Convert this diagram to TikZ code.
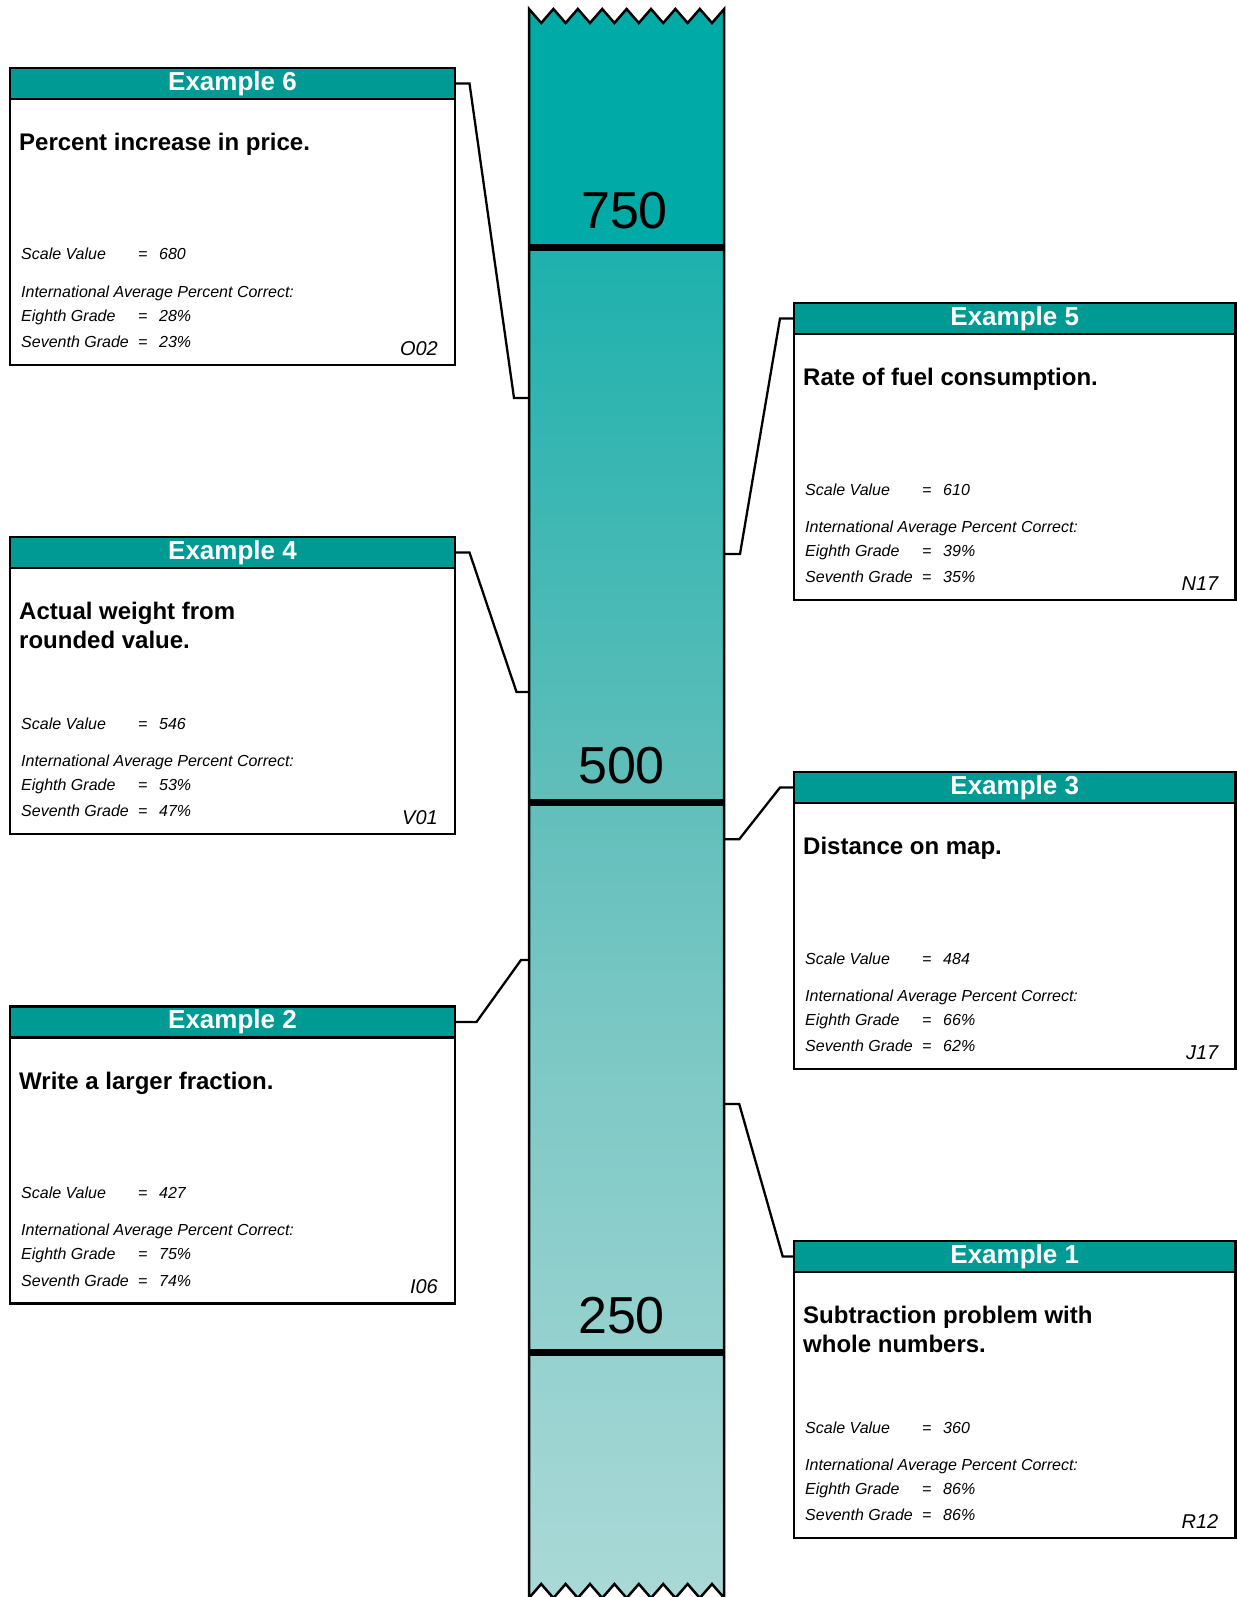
\documentclass[tikz,border=0pt]{standalone}
\usepackage{fontspec}
\setmainfont{Liberation Sans}
\usetikzlibrary{calc}
\definecolor{exteal}{RGB}{0,154,148}
\definecolor{coltop}{RGB}{0,170,166}
\definecolor{colA}{RGB}{30,177,173}
\definecolor{colB}{RGB}{96,190,186}
\definecolor{colC}{RGB}{122,199,196}
\definecolor{colD}{RGB}{170,217,215}
\pgfdeclareverticalshading{colfade}{100bp}{color(0bp)=(colD); color(25bp)=(colD);
  color(46.4bp)=(colC); color(55bp)=(colB); color(75bp)=(colA); color(100bp)=(colA)}
% #1 number, #2 x, #3 y, #4 width, #5 title, #6 scale value, #7 eighth, #8 seventh, #9 item
\newcommand{\exbox}[9]{%
  \node[exframe,minimum width=#4pt,anchor=north west] (ex#1) at (#2,#3) {};
  \node[exhead,minimum width=#4pt,anchor=north west] (ex#1h) at (ex#1.north west) {Example #1};
  \node[extitle] (ex#1t) at (#2+9,#3+65.3) {#5};
  \node[exsmall] (ex#1s) at (#2+11,#3+192) {Scale Value};
  \node[exsmall] (ex#1se) at (#2+128,#3+192) {=};
  \node[exsmall] (ex#1sv) at (#2+149,#3+192) {#6};
  \node[exsmall] (ex#1i) at (#2+11,#3+229) {International Average Percent Correct:};
  \node[exsmall] (ex#1e) at (#2+11,#3+253) {Eighth Grade};
  \node[exsmall] (ex#1ee) at (#2+128,#3+253) {=};
  \node[exsmall] (ex#1ev) at (#2+149,#3+253) {#7\%};
  \node[exsmall] (ex#1v) at (#2+11,#3+279.5) {Seventh Grade};
  \node[exsmall] (ex#1ve) at (#2+128,#3+279.5) {=};
  \node[exsmall] (ex#1vv) at (#2+149,#3+279.5) {#8\%};
  \node[excode] (ex#1c) at (#2+#4-17,#3+287) {#9};
}

\begin{document}
\begin{tikzpicture}[x=1pt,y=-1pt,
  exframe/.style={draw,line width=2.5pt,fill=white,minimum height=297pt,inner sep=0pt,outer sep=0pt},
  exhead/.style={draw,line width=2.5pt,fill=exteal,text=white,minimum height=31pt,
    inner sep=0pt,outer sep=0pt,font=\fontsize{26}{30}\selectfont\bfseries},
  extitle/.style={anchor=north west,inner sep=0pt,align=left,font=\fontsize{24}{29}\selectfont\bfseries},
  exsmall/.style={anchor=base west,inner sep=0pt,font=\fontsize{16}{19}\selectfont\itshape},
  excode/.style={anchor=base east,inner sep=0pt,font=\fontsize{20}{24}\selectfont\itshape},
  scaleno/.style={anchor=base,inner sep=0pt,font=\fontsize{52}{60}\selectfont},
  scaleline/.style={line width=7pt},
  link/.style={line width=2.3pt},
  column/.style={draw,line width=2.5pt,line join=miter}]
  \useasboundingbox (0,0) rectangle (1236,1597);

  % the scale column
  \path[column,path picture={
      \fill[coltop] (520,0) rectangle (730,248);
      \shade[shading=colfade] (520,248) rectangle (730,1600);}]
    (529,9) \foreach \k in {0,...,7} { -- (541.2+24.4*\k,23) -- (553.4+24.4*\k,9) }
    -- (724.2,1598) \foreach \k in {7,...,0} { -- (541.2+24.4*\k,1584) -- (529+24.4*\k,1598) }
    -- cycle;
  \draw[scaleline] (529,248) -- (724.2,248);
  \draw[scaleline] (529,802.7) -- (724.2,802.7);
  \draw[scaleline] (529,1352.8) -- (724.2,1352.8);
  \node[scaleno] (n750) at (624.5,228.5) {750};
  \node[scaleno] (n500) at (621.5,783.2) {500};
  \node[scaleno] (n250) at (621.5,1333.3) {250};

  \coordinate (s680) at (529,398);
  \coordinate (s610) at (724.2,554);
  \coordinate (s546) at (529,692);
  \coordinate (s484) at (724.2,839.3);
  \coordinate (s427) at (529,960);
  \coordinate (s360) at (724.2,1104);

  % example boxes
  \exbox{6}{10}{68}{445}{Percent increase in price.}{680}{28}{23}{O02}
  \exbox{5}{794}{303}{441.5}{Rate of fuel consumption.}{610}{39}{35}{N17}
  \exbox{4}{10}{537}{445}{Actual weight from\\rounded value.}{546}{53}{47}{V01}
  \exbox{3}{794}{772}{441.5}{Distance on map.}{484}{66}{62}{J17}
  \exbox{2}{10}{1006.5}{445}{Write a larger fraction.}{427}{75}{74}{I06}
  \exbox{1}{794}{1241}{441.5}{Subtraction problem with\\whole numbers.}{360}{86}{86}{R12}

  % leader lines
  \draw[link] (ex6h.east) -- ++(14.5,0) -- ([xshift=-15pt]s680) -- (s680);
  \draw[link] (ex4h.east) -- ++(14.5,0) -- ([xshift=-12.5pt]s546) -- (s546);
  \draw[link] (ex2h.east) -- ++(21.5,0) -- ([xshift=-8pt]s427) -- (s427);
  \draw[link] (s610) -- ++(15.8,0) -- ([xshift=-14pt]ex5h.west) -- (ex5h.west);
  \draw[link] (s484) -- ++(15,0) -- ([xshift=-14pt]ex3h.west) -- (ex3h.west);
  \draw[link] (s360) -- ++(15,0) -- ([xshift=-11.3pt]ex1h.west) -- (ex1h.west);
\end{tikzpicture}
\end{document}
